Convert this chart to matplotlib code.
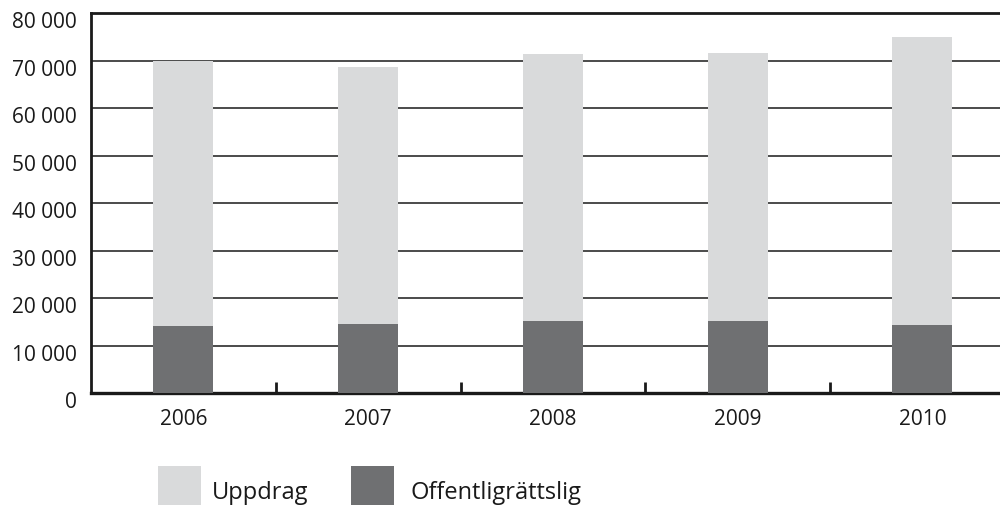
import matplotlib
matplotlib.use("Agg")
from matplotlib import pyplot as plt
from matplotlib.patches import Rectangle
from matplotlib.transforms import ScaledTranslation

plt.rcParams['font.family'] = ['Open Sans', 'DejaVu Sans']

# data
years = ['2006', '2007', '2008', '2009', '2010']
offentligrattslig = [14200, 14500, 15200, 15200, 14300]
totalt = [69900, 68600, 71400, 71600, 75000]
uppdrag = [t - o for t, o in zip(totalt, offentligrattslig)]
y_ticks = [0, 10000, 20000, 30000, 40000, 50000, 60000, 70000, 80000]
y_labels = ['0', '10 000', '20 000', '30 000', '40 000', '50 000', '60 000', '70 000', '80 000']

light = '#d9dadb'
dark = '#6f7072'

fig = plt.figure(figsize=(10, 5.06), dpi=100)
ax = fig.add_axes([0.091, 0.2213, 0.909, 0.751])

x = list(range(len(years)))
ax.bar(x, offentligrattslig, width=0.324, color=dark, zorder=3)
ax.bar(x, uppdrag, width=0.324, bottom=offentligrattslig, color=light, zorder=3)

ax.set_xlim(-0.5, 4.42)
ax.set_ylim(0, 80000)

ax.set_yticks(y_ticks)
ax.set_yticklabels(y_labels, fontsize=15, color='#1a1a1a')
ax.tick_params(axis='y', length=0, pad=10)
shift = ScaledTranslation(0, -6 / 100, fig.dpi_scale_trans)
for lab in ax.get_yticklabels():
    lab.set_transform(lab.get_transform() + shift)

ax.set_xticks(x)
ax.set_xticklabels(years, fontsize=15, color='#1a1a1a')
ax.tick_params(axis='x', which='major', length=0, pad=11)
ax.set_xticks([0.5, 1.5, 2.5, 3.5], minor=True)
ax.tick_params(axis='x', which='minor', direction='in', length=8, width=2, color='#1a1a1a')

ax.yaxis.grid(True, color='#1a1a1a', linewidth=1.1, zorder=0)
ax.set_axisbelow(True)

ax.spines['right'].set_visible(False)
for side in ['left', 'top']:
    ax.spines[side].set_linewidth(2)
    ax.spines[side].set_color('#1a1a1a')
ax.spines['bottom'].set_linewidth(2.4)
ax.spines['bottom'].set_color('#1a1a1a')

# legend
fig.patches.append(Rectangle((0.158, 0.0), 0.043, 0.077, transform=fig.transFigure,
                             facecolor=light, edgecolor='none'))
fig.text(0.212, 0.0138, 'Uppdrag', fontsize=17, va='baseline', ha='left', color='#1a1a1a')
fig.patches.append(Rectangle((0.351, 0.0), 0.043, 0.077, transform=fig.transFigure,
                             facecolor=dark, edgecolor='none'))
fig.text(0.411, 0.0138, 'Offentligrättslig', fontsize=17, va='baseline', ha='left', color='#1a1a1a')

fig.savefig('out.png', dpi=100)
